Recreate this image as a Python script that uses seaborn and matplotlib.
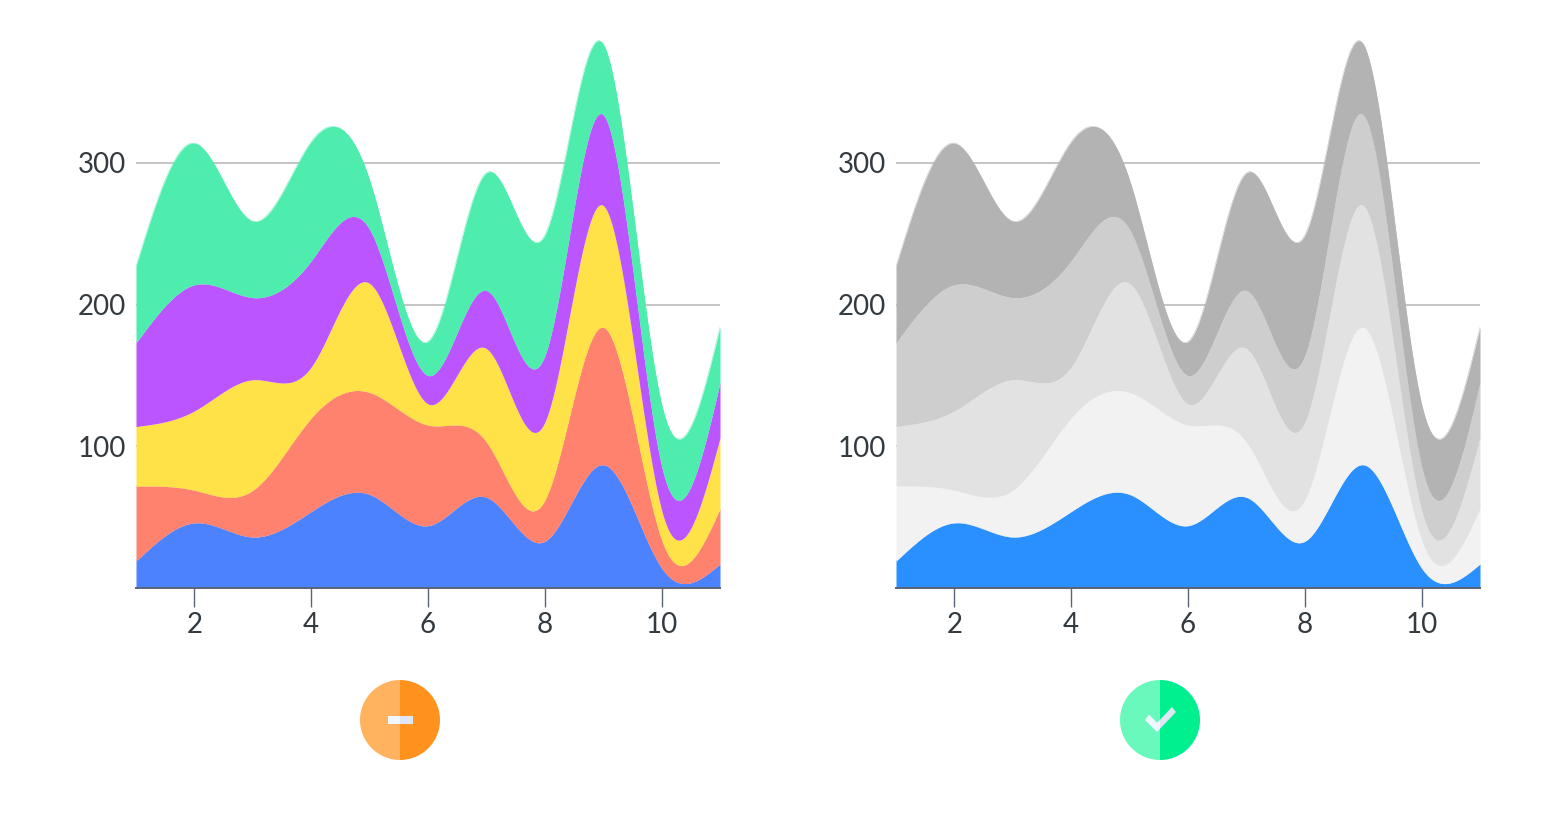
import numpy as np
import pandas as pd
import matplotlib
matplotlib.use("Agg")
import matplotlib.pyplot as plt
from matplotlib.patches import Wedge, Polygon, Rectangle
import seaborn as sns

days = [1, 2, 3, 4, 5, 6, 7, 8, 9, 10, 11]
series_a = [19, 46, 36, 54, 66, 44, 64, 33, 87, 14, 17]
series_b = [53, 23, 33, 66, 72, 71, 39, 29, 97, 20, 39]
series_c = [42, 56, 78, 36, 77, 15, 66, 55, 86, 21, 50]
series_d = [59, 89, 58, 75, 38, 20, 41, 47, 64, 31, 39]
series_e = [54, 100, 54, 84, 35, 24, 83, 85, 50, 44, 39]
x_ticks = [2, 4, 6, 8, 10]
y_ticks = [100, 200, 300]
colors_left = ["#4d82ff", "#ff826e", "#ffe148", "#bb55ff", "#4eedae"]
colors_right = ["#2b90ff", "#f2f2f2", "#e2e2e2", "#cecece", "#b3b3b3"]

sns.set_theme(style="white")
plt.rcParams["font.family"] = ["Lato", "DejaVu Sans"]
TEXT = "#333a40"


def natural_spline(x, y, xs):
    x = np.asarray(x, float)
    y = np.asarray(y, float)
    n = len(x)
    h = np.diff(x)
    A = np.zeros((n, n))
    b = np.zeros(n)
    A[0, 0] = A[-1, -1] = 1
    for i in range(1, n - 1):
        A[i, i - 1] = h[i - 1]
        A[i, i] = 2 * (h[i - 1] + h[i])
        A[i, i + 1] = h[i]
        b[i] = 6 * ((y[i + 1] - y[i]) / h[i] - (y[i] - y[i - 1]) / h[i - 1])
    m = np.linalg.solve(A, b)
    k = np.clip(np.searchsorted(x, xs) - 1, 0, n - 2)
    t0 = x[k + 1] - xs
    t1 = xs - x[k]
    hk = h[k]
    return (m[k] * t0**3 + m[k + 1] * t1**3) / (6 * hk) + \
        (y[k] / hk - m[k] * hk / 6) * t0 + (y[k + 1] / hk - m[k + 1] * hk / 6) * t1


W, H = 1560, 840
fig = plt.figure(figsize=(W / 100, H / 100), dpi=100, facecolor="white")
all_series = [series_a, series_b, series_c, series_d, series_e]
xs = np.linspace(days[0], days[-1], 1000)


def panel(left_px, colors):
    ax = fig.add_axes([left_px / W, 1 - 588 / H, 584 / W, 568 / H])
    ax.set_facecolor("none")
    ax.set_xlim(1, 11)
    ax.set_ylim(0, 568 / 1.4167)
    for t in y_ticks:
        ax.axhline(t, color="#b5b5b5", lw=1.1, zorder=1)
    lower = np.zeros_like(xs)
    for i, (s, c) in enumerate(zip(all_series, colors)):
        upper = lower + natural_spline(days, s, xs)
        df = pd.DataFrame({"day": xs, "value": upper})
        sns.lineplot(data=df, x="day", y="value", ax=ax, color=c, lw=0.3,
                     errorbar=None, estimator=None, sort=False, zorder=3 + i)
        ax.fill_between(xs, np.maximum(lower, 0), np.maximum(upper, 0), color=c, lw=0, zorder=3 + i)
        lower = upper
    for side in ("top", "right", "left"):
        ax.spines[side].set_visible(False)
    ax.spines["bottom"].set_color("#5b6478")
    ax.spines["bottom"].set_linewidth(1.4)
    ax.spines["bottom"].set_zorder(20)
    ax.set_xticks(x_ticks)
    ax.set_yticks(y_ticks)
    ax.tick_params(axis="x", length=14, width=1, color="#5b6478", pad=3,
                   labelsize=20, labelcolor=TEXT, bottom=True)
    ax.tick_params(axis="y", length=0, pad=7, labelsize=20, labelcolor=TEXT)
    ax.set_xlabel("")
    ax.set_ylabel("")
    return ax


panel(136, colors_left)
panel(896, colors_right)

ov = fig.add_axes([0, 0, 1, 1], facecolor="none")
ov.set_xlim(0, W)
ov.set_ylim(H, 0)
ov.axis("off")


def icon(cx, cy, light, dark):
    r = 40
    ov.add_patch(Wedge((cx, cy), r, 90, 270, color=light, lw=0))
    ov.add_patch(Wedge((cx, cy), r, -90, 90, color=dark, lw=0))


icon(400, 720, "#ffb35f", "#ff931e")
ov.add_patch(Rectangle((388, 716), 12, 8, color="#f0f7ff", lw=0))
ov.add_patch(Rectangle((400, 716), 12.5, 8, color="#dfe6f5", lw=0))

icon(1160, 720, "#6af9bd", "#00f08f")
ov.add_patch(Polygon([(1145, 720), (1149, 714.5), (1157, 722.7), (1160, 719.8), (1160, 728.8), (1157, 732)],
                     closed=True, color="#f0f7ff", lw=0))
ov.add_patch(Polygon([(1160, 719.8), (1172, 707), (1176, 712), (1160, 728.8)],
                     closed=True, color="#dfe6f5", lw=0))

fig.savefig("out.png", dpi=100)
